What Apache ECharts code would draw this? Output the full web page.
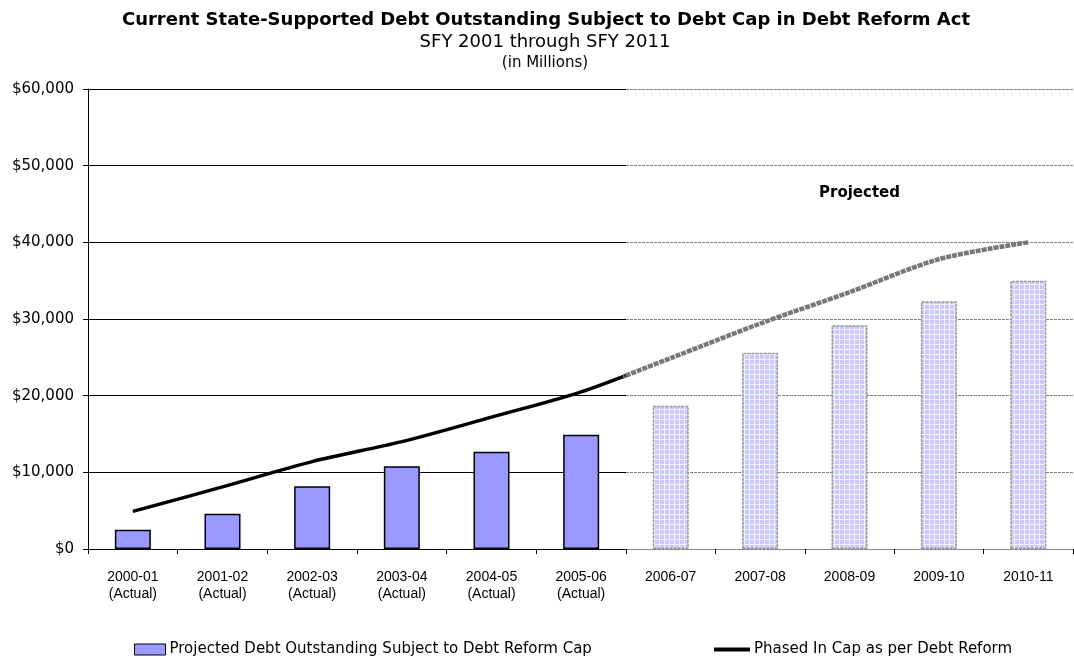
<!DOCTYPE html>
<html>
<head>
<meta charset="utf-8">
<script src="https://cdn.jsdelivr.net/npm/echarts@6/dist/echarts.min.js"></script>
<style>
  html, body { margin: 0; padding: 0; background: #fff; }
  #chart { width: 1074px; height: 658px; }
</style>
</head>
<body>
<div id="chart"></div>
<script>
// Fiscal years; the first six are actuals, the rest projections
const actualYears = ['2000-01', '2001-02', '2002-03', '2003-04', '2004-05', '2005-06'];
const projectedYears = ['2006-07', '2007-08', '2008-09', '2009-10', '2010-11'];
const actualTag = '(Actual)';

// Debt outstanding subject to the cap ($ millions)
const actualDebt = [2500, 4600, 8200, 10800, 12700, 14900];
const projectedDebt = [18700, 25600, 29200, 32300, 35000];

// Phased-in cap, one value per fiscal year ($ millions)
const phasedCap = [4900, 8100, 11400, 14000, 17200, 20500, 24900, 29400, 33500, 37800, 40000];

const yTicks = { min: 0, max: 60000, interval: 10000 };

const barName = 'Projected Debt Outstanding Subject to Debt Reform Cap';
const lineName = 'Phased In Cap as per Debt Reform';

const chart = echarts.init(document.getElementById('chart'));

// Cross-hatched fill for projected bars
function hatch() {
  const c = document.createElement('canvas');
  c.width = 5; c.height = 5;
  const g = c.getContext('2d');
  g.fillStyle = '#c9c9ff';
  g.fillRect(0, 0, 5, 5);
  g.fillStyle = '#f2f2ff';
  g.fillRect(4, 0, 1, 5);
  g.fillRect(0, 4, 5, 1);
  return c;
}

const capPoints = phasedCap.map((v, i) => [i, v]);
const nA = actualYears.length;
const nAll = phasedCap.length;

const labelFont = { fontFamily: 'Liberation Sans', fontSize: 14, color: '#000', lineHeight: 17 };
const money = v => '$' + v.toLocaleString('en-US');

const option = {
  animation: false,
  backgroundColor: '#fff',
  title: [
    { text: 'Current State-Supported Debt Outstanding Subject to Debt Cap in Debt Reform Act',
      left: 541, top: 6, textAlign: 'center',
      textStyle: { fontFamily: 'DejaVu Sans', fontWeight: 'bold', fontSize: 18, color: '#000' } },
    { text: 'SFY 2001 through SFY 2011', left: 540, top: 28, textAlign: 'center',
      textStyle: { fontFamily: 'DejaVu Sans', fontWeight: 'normal', fontSize: 18, color: '#000' } },
    { text: '(in Millions)', left: 540, top: 51, textAlign: 'center',
      textStyle: { fontFamily: 'DejaVu Sans', fontWeight: 'normal', fontSize: 15, color: '#000' } }
  ],
  legend: [
    { data: [{ name: barName, icon: 'rect' }], left: 129, top: 637, itemWidth: 31, itemHeight: 11, itemGap: 5,
      selectedMode: false,
      itemStyle: { borderColor: '#000', borderWidth: 1 },
      textStyle: { fontFamily: 'DejaVu Sans', fontSize: 15, color: '#000', padding: [0, 0, 0, -1] } },
    { data: [{ name: lineName, icon: 'rect' }], left: 709, top: 637, itemWidth: 36, itemHeight: 4, itemGap: 5,
      selectedMode: false,
      itemStyle: { color: '#000', borderWidth: 0 },
      textStyle: { fontFamily: 'DejaVu Sans', fontSize: 15, color: '#000', padding: [0, 0, 0, -1] } }
  ],
  grid: [
    { left: 88, top: 89, width: 538, height: 460 },
    { left: 626, top: 89, width: 447, height: 460 }
  ],
  xAxis: [
    { type: 'category', gridIndex: 0, data: actualYears,
      axisLine: { lineStyle: { color: '#000', width: 1 } },
      axisTick: { show: true, length: 5, lineStyle: { color: '#000' } },
      axisLabel: Object.assign({ margin: 20, interval: 0, formatter: v => v + '\n' + actualTag }, labelFont) },
    { type: 'category', gridIndex: 1, data: projectedYears,
      axisLine: { lineStyle: { color: '#808080', width: 1, type: [3, 1] } },
      axisTick: { show: true, length: 5, lineStyle: { color: '#000' } },
      axisLabel: Object.assign({ margin: 20, interval: 0, verticalAlign: 'top' }, labelFont) },
    { type: 'value', gridIndex: 0, min: -0.5, max: nA - 0.5, show: false },
    { type: 'value', gridIndex: 1, min: nA - 0.5, max: nAll - 0.5, show: false }
  ],
  yAxis: [
    { type: 'value', gridIndex: 0, min: yTicks.min, max: yTicks.max, interval: yTicks.interval,
      axisLine: { show: true, onZero: false, lineStyle: { color: '#000', width: 1 } },
      axisTick: { show: true, length: 5, lineStyle: { color: '#000' } },
      axisLabel: { formatter: money, fontFamily: 'DejaVu Sans', fontSize: 15, color: '#000', margin: 14 },
      splitLine: { lineStyle: { color: '#000', width: 1 } } },
    { type: 'value', gridIndex: 1, min: yTicks.min, max: yTicks.max, interval: yTicks.interval,
      axisLine: { show: false, onZero: false }, axisTick: { show: false }, axisLabel: { show: false },
      splitLine: { lineStyle: { color: '#808080', width: 1, type: [3, 1] } } }
  ],
  series: [
    { name: barName, type: 'bar', xAxisIndex: 0, yAxisIndex: 0, data: actualDebt, barWidth: 36,
      itemStyle: { color: '#9999ff', borderColor: '#000', borderWidth: 1.5 } },
    { name: barName, type: 'bar', xAxisIndex: 1, yAxisIndex: 1, data: projectedDebt, barWidth: 36,
      itemStyle: { color: { image: hatch(), repeat: 'repeat' }, borderColor: '#999', borderWidth: 1.5, borderType: [3, 1] } },
    { name: lineName, type: 'line', xAxisIndex: 2, yAxisIndex: 0, data: capPoints,
      smooth: 0.3, symbol: 'none', clip: true, z: 5,
      lineStyle: { color: '#000', width: 3.5 } },
    { name: lineName, type: 'line', xAxisIndex: 3, yAxisIndex: 1, data: capPoints,
      smooth: 0.3, symbol: 'none', clip: true, z: 5,
      lineStyle: { color: '#777', width: 4.5, type: [5, 1] } }
  ],
  graphic: [
    { type: 'text', left: 819, top: 186, style: { text: 'Projected', fill: '#000',
      font: 'bold 15px "DejaVu Sans"' } }
  ]
};

chart.setOption(option);
</script>
</body>
</html>
